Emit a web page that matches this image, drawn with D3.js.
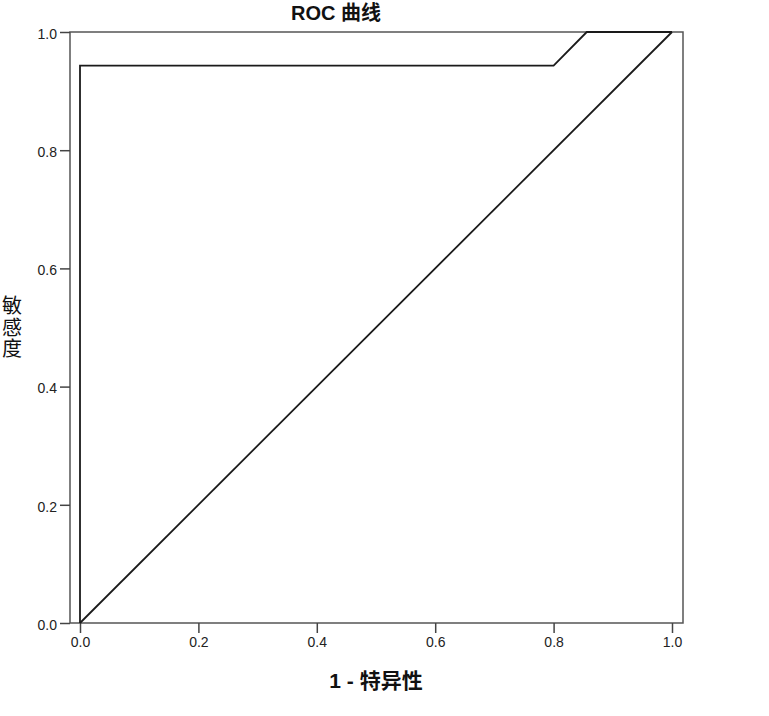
<!DOCTYPE html>
<html>
<head>
<meta charset="utf-8">
<script src="https://cdn.jsdelivr.net/npm/d3@7"></script>
<style>
  body { margin: 0; background: #fff; }
  text { font-family: "Liberation Sans", Arial, "Noto Sans CJK SC", sans-serif; }
</style>
</head>
<body>
<div id="viz"></div>
<script>
// ROC curve points (1 - specificity, sensitivity)
const rocFpr = [0, 0, 0.8, 0.856, 1];
const rocTpr = [0, 0.943, 0.943, 1, 1];
// reference line
const refFpr = [0, 1];
const refTpr = [0, 1];
const tickValues = [0, 0.2, 0.4, 0.6, 0.8, 1.0];

const width = 769;
const height = 716;

const svg = d3.select('#viz')
  .append('svg')
  .attr('width', width)
  .attr('height', height);

const frame = { left: 70, right: 683, top: 32, bottom: 623 };

const x = d3.scaleLinear().domain([0, 1]).range([80, 672]);
const y = d3.scaleLinear().domain([0, 1]).range([623, 32]);

// frame
svg.append('rect')
  .attr('x', frame.left)
  .attr('y', frame.top)
  .attr('width', frame.right - frame.left)
  .attr('height', frame.bottom - frame.top)
  .attr('fill', 'none')
  .attr('stroke', '#555')
  .attr('stroke-width', 1.5);

// axes
const yAxis = d3.axisLeft(y)
  .tickValues(tickValues)
  .tickSize(10)
  .tickPadding(3)
  .tickFormat(d3.format('.1f'));

const xAxis = d3.axisBottom(x)
  .tickValues(tickValues)
  .tickSize(10)
  .tickPadding(4)
  .tickFormat(d3.format('.1f'));

const gy = svg.append('g')
  .attr('transform', `translate(${frame.left},0)`)
  .call(yAxis);
const gx = svg.append('g')
  .attr('transform', `translate(0,${frame.bottom})`)
  .call(xAxis);

[gx, gy].forEach(g => {
  g.select('.domain').remove();
  g.selectAll('.tick line').attr('stroke', '#444').attr('stroke-width', 1.5);
  g.selectAll('.tick text')
    .attr('fill', '#222')
    .style('font-size', '14px')
    .style('font-family', '"Liberation Sans", Arial, sans-serif');
});
gy.selectAll('.tick text').attr('dy', '0.45em');

// lines
const line = d3.line()
  .x(d => x(d[0]))
  .y(d => y(d[1]));

svg.append('path')
  .datum(refFpr.map((v, i) => [v, refTpr[i]]))
  .attr('d', line)
  .attr('fill', 'none')
  .attr('stroke', '#1a1a1a')
  .attr('stroke-width', 1.8);

svg.append('path')
  .datum(rocFpr.map((v, i) => [v, rocTpr[i]]))
  .attr('d', line)
  .attr('fill', 'none')
  .attr('stroke', '#1a1a1a')
  .attr('stroke-width', 1.8);

// title
svg.append('text')
  .attr('x', 336)
  .attr('y', 20)
  .attr('text-anchor', 'middle')
  .style('font-size', '20px')
  .style('font-weight', 'bold')
  .attr('fill', '#111')
  .text('ROC 曲线');

// x label
svg.append('text')
  .attr('x', 376)
  .attr('y', 688)
  .attr('text-anchor', 'middle')
  .style('font-size', '21px')
  .style('font-weight', 'bold')
  .attr('fill', '#111')
  .text('1 - 特异性');

// y label, stacked characters
const yLabel = svg.append('text')
  .attr('text-anchor', 'middle')
  .style('font-size', '20px')
  .attr('fill', '#111');
['敏', '感', '度'].forEach((ch, i) => {
  yLabel.append('tspan')
    .attr('x', 12)
    .attr('y', 313 + i * 21.5)
    .text(ch);
});
</script>
</body>
</html>
